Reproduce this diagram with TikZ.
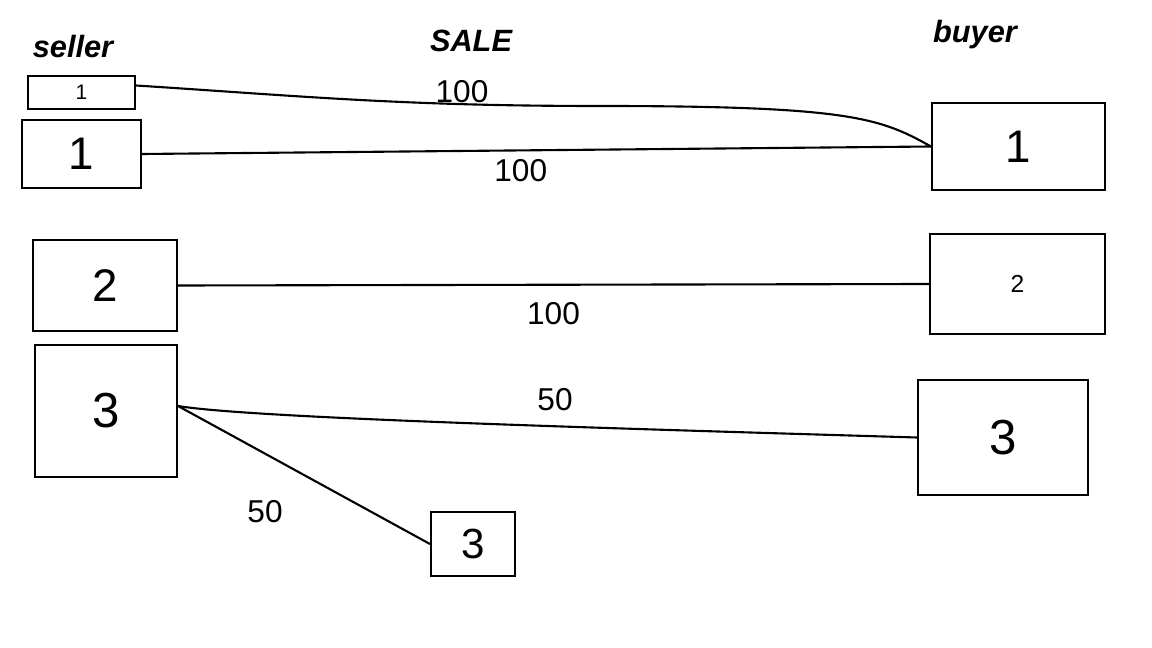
\documentclass[tikz,border=0pt]{standalone}
\usepackage{fontspec}
\setmainfont{Liberation Sans}
\tikzset{
  acct/.style={draw, line width=1.2pt, inner sep=0pt},
  head/.style={font=\fontsize{17.5}{20}\selectfont\bfseries\itshape},
  amount/.style={font=\fontsize{18}{20}\selectfont},
  flow/.style={line width=1.2pt},
}
\begin{document}
\begin{tikzpicture}[x=0.02cm,y=-0.02cm]
  \useasboundingbox (0,0) rectangle (1152,648);
  % titles
  \node[head] (seller) at (73,47) {seller};
  \node[head] (sale) at (471,41) {SALE};
  \node[head] (buyer) at (975,35) {buyer};
  % seller side
  \node[acct, minimum width=2.14cm, minimum height=0.66cm, font=\fontsize{12}{14}\selectfont] (s0) at (81.5,92.5) {1};
  \node[acct, minimum width=2.38cm, minimum height=1.36cm, font=\fontsize{26}{30}\selectfont] (s1) at (81.5,154) {1};
  \node[acct, minimum width=2.88cm, minimum height=1.82cm, font=\fontsize{26}{30}\selectfont] (s2) at (105,285.5) {2};
  \node[acct, minimum width=2.84cm, minimum height=2.64cm, font=\fontsize{28}{32}\selectfont] (s3) at (106,411) {3};
  \node[acct, minimum width=1.68cm, minimum height=1.28cm, font=\fontsize{24}{28}\selectfont] (s3b) at (473,544) {3};
  % buyer side
  \node[acct, minimum width=3.46cm, minimum height=1.74cm, font=\fontsize{26}{30}\selectfont] (b1) at (1018.5,146.5) {1};
  \node[acct, minimum width=3.5cm, minimum height=2.0cm, font=\fontsize{14}{16}\selectfont] (b2) at (1017.5,284) {2};
  \node[acct, minimum width=3.4cm, minimum height=2.3cm, font=\fontsize{28}{32}\selectfont] (b3) at (1003,437.5) {3};
  % flows
  \draw[flow] ([yshift=0.14cm]s0.east) .. controls (300,96) and (400,106) .. (600,106)
    .. controls (850,106) and (880,118) .. (b1.west);
  \node[amount] (a0) at (462,92) {100};
  \draw[flow] (s1.east) -- (b1.west)
    node[amount, pos=0.48, below=1pt] (a1) {100};
  \draw[flow] (s2.east) -- (b2.west)
    node[amount, pos=0.5, below=6pt] (a2) {100};
  \draw[flow] ([yshift=0.1cm]s3.east) .. controls (250,418) and (600,428) .. (b3.west);
  \node[amount] (a3) at (555,400) {50};
  \draw[flow] ([yshift=0.1cm]s3.east) -- (s3b.west);
  \node[amount] (a4) at (265,512) {50};
\end{tikzpicture}
\end{document}
